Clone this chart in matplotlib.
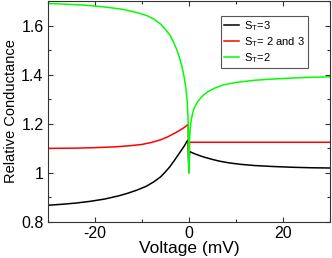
import matplotlib
matplotlib.use("Agg")
import matplotlib.pyplot as plt
from matplotlib.ticker import MultipleLocator, FormatStrFormatter

plt.rcParams['font.family'] = ['Liberation Sans', 'DejaVu Sans']
plt.rcParams['mathtext.default'] = 'regular'
plt.rcParams['axes.unicode_minus'] = False

# S_T = 3 (black)
v_black = [-30, -27, -24, -21, -18, -15, -13, -11, -9, -7.5, -6, -5, -4, -3, -2, -1, -0.4, -0.15, 0,
           0.15, 0.5, 1, 1.5, 2.5, 3.5, 5, 6.5, 8.5, 11, 14, 18, 22, 26, 30]
g_black = [0.867, 0.871, 0.876, 0.883, 0.892, 0.905, 0.916, 0.929, 0.945, 0.962, 0.983, 1.003, 1.025, 1.052,
           1.080, 1.108, 1.128, 1.133, 1.0,
           1.087, 1.083, 1.079, 1.075, 1.068, 1.062, 1.054, 1.047, 1.040, 1.034, 1.029, 1.025, 1.022, 1.020, 1.019]

# S_T = 2 and 3 (red)
v_red = [-30, -24, -20, -16, -13, -10, -8, -6, -4.5, -3, -2, -1, -0.4, -0.15, 0, 0.15, 5, 30]
g_red = [1.099, 1.100, 1.102, 1.105, 1.109, 1.115, 1.123, 1.134, 1.146, 1.161, 1.172, 1.184, 1.193, 1.196,
         1.0, 1.124, 1.124, 1.124]

# S_T = 2 (green)
v_green = [-30, -26, -22, -18, -14, -11, -9, -7.5, -6, -5, -4, -3.3, -2.6, -2, -1.5, -1, -0.6, -0.35, -0.2,
           -0.1, 0, 0.1, 0.25, 0.5, 0.9, 1.3, 2, 3, 4, 5.5, 7.3, 10, 14, 18, 22, 26, 30]
g_green = [1.690, 1.687, 1.683, 1.676, 1.666, 1.653, 1.641, 1.627, 1.606, 1.585, 1.560, 1.535, 1.503, 1.470,
           1.435, 1.390, 1.340, 1.290, 1.230, 1.170, 1.0, 1.12, 1.17, 1.215, 1.25, 1.27, 1.293, 1.315, 1.330,
           1.345, 1.358, 1.368, 1.377, 1.382, 1.386, 1.389, 1.391]

labels = [r'$S_T$=3', r'$S_T$= 2 and 3', r'$S_T$=2']
colors = ['black', '#ff0000', '#00ff00']

fig = plt.figure(figsize=(3.32, 2.58), dpi=100)
ax = fig.add_axes([0.1437, 0.1407, 0.8503, 0.8553])

ax.plot(v_black, g_black, color=colors[0], lw=1.1, label=labels[0])
ax.plot(v_red, g_red, color=colors[1], lw=1.1, label=labels[1])
ax.plot(v_green, g_green, color=colors[2], lw=1.1, label=labels[2])

ax.set_xlim(-30, 30)
ax.set_ylim(0.8, 1.7)
ax.xaxis.set_major_locator(MultipleLocator(20))
ax.xaxis.set_minor_locator(MultipleLocator(10))
ax.yaxis.set_major_locator(MultipleLocator(0.2))
ax.yaxis.set_minor_locator(MultipleLocator(0.1))
ax.yaxis.set_major_formatter(FormatStrFormatter('%g'))
ax.tick_params(which='both', direction='in', top=True, right=True, labelsize=11.5, width=0.8, color='#333333')
ax.tick_params(which='major', length=3.6, pad=3)
ax.tick_params(which='minor', length=2.2)
for s in ax.spines.values():
    s.set_linewidth(0.8)
    s.set_color('#333333')

ax.set_xlabel('Voltage (mV)', fontsize=12.5, labelpad=0)
ax.set_ylabel('Relative Conductance', fontsize=10.5, labelpad=2)

leg = ax.legend(loc='upper left', bbox_to_anchor=(0.613, 0.932), borderaxespad=0,
                fontsize=8, frameon=True, fancybox=False, framealpha=1,
                handlelength=1.3, handletextpad=0.5, borderpad=0.3, labelspacing=0.18)
leg.get_frame().set_edgecolor('#555555')
leg.get_frame().set_linewidth(0.8)

fig.savefig('out.png', dpi=100)
